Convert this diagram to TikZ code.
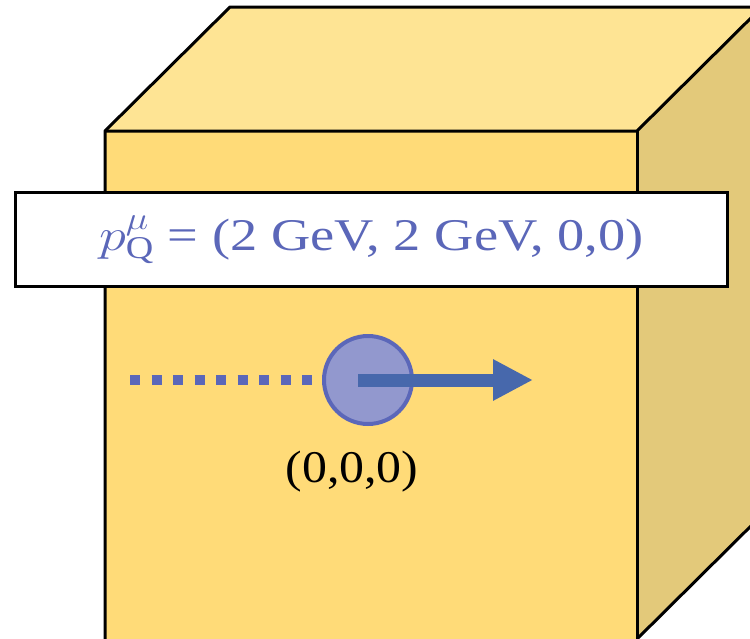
\RequirePackage{fix-cm}
\documentclass[tikz,border=0pt]{standalone}
\usepackage{graphicx}
\usepackage{fontspec}
\setmainfont{Liberation Serif}
\usetikzlibrary{arrows.meta,positioning}

\definecolor{cubefront}{RGB}{255,219,120}
\definecolor{cubetop}{RGB}{254,228,148}
\definecolor{cubeside}{RGB}{227,201,122}
\definecolor{quarkblue}{RGB}{91,103,185}
\definecolor{quarkfill}{RGB}{146,152,206}
\definecolor{arrowblue}{RGB}{71,104,172}

\tikzset{
  edge/.style={line width=2.25pt, line join=round},
  labelbox/.style={draw, line width=2.25pt, fill=white, minimum width=534pt, minimum height=70.5pt, inner sep=0pt},
  quark/.style={circle, draw=quarkblue, fill=quarkfill, line width=3pt, minimum size=66pt, inner sep=0pt},
  dotline/.style={quarkblue, line width=7.5pt, dash pattern=on 7.5pt off 8.625pt},
  momarrow/.style={arrowblue, line width=9.75pt, -{Triangle[length=30pt, width=29pt]}}
}

\begin{document}
\begin{tikzpicture}[x=0.75pt, y=-0.75pt]
\useasboundingbox (0,0) rectangle (750,639);
\clip (0,0) rectangle (750,639);

% Cube
\fill[cubetop] (105,131) -- (230,7) -- (762,7) -- (637,131) -- cycle;
\fill[cubeside] (637,131) -- (762,7) -- (762,515) -- (637,639) -- cycle;
\fill[cubefront] (105,131) rectangle (637,645);
\draw[edge] (105,645) -- (105,131) -- (230,7) -- (762,7);
\draw[edge] (105,131) -- (637,131) -- (762,7);
\draw[edge] (637,131) -- (637,645);
\draw[edge] (637,639) -- (762,515);

% Momentum label
\node[labelbox] (pbox) at (371.5,239.5)
  {\raisebox{5pt}{\color{quarkblue}\fontsize{34}{40}\selectfont
   \scalebox{1.2}[1]{$p^{\mu}_{\mathrm{Q}}$ = (2 GeV, 2 GeV, 0,0)}}};

% Quark
\coordinate (tail) at (130,380);
\coordinate (tip) at (533,380);
\draw[dotline] (tail) -- (318,380);
\node[quark] (ball) at (368,380) {};
\draw[momarrow] ([xshift=-7.5pt]ball.center) -- (tip);
\node (origin) at (352,472) {\fontsize{34}{40}\selectfont \scalebox{1.1}[1]{(0,0,0)}};

\end{tikzpicture}
\end{document}
